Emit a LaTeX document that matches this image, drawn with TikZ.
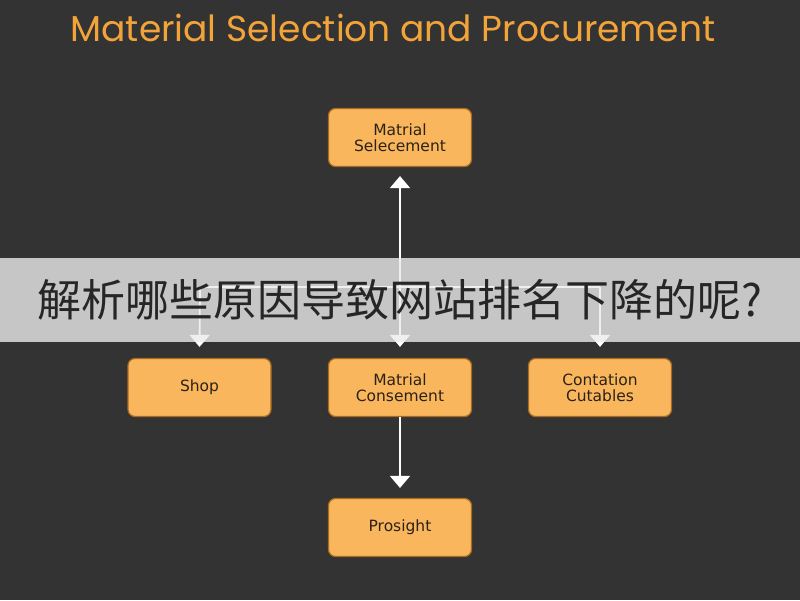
\documentclass[tikz,border=0pt]{standalone}
\usepackage{fontspec}
\setmainfont{Liberation Sans}
\newfontfamily\titlefont{Poppins}
\newfontfamily\boxfont{DejaVu Sans}
\newfontfamily\cjkfont{Noto Sans CJK SC}
\usetikzlibrary{arrows.meta}
\definecolor{bgdark}{HTML}{333333}
\definecolor{boxorange}{HTML}{F9B65C}
\definecolor{boxedge}{HTML}{A86A22}
\definecolor{boxtext}{HTML}{2A2218}
\definecolor{titleorange}{HTML}{F2A33A}

\begin{document}
\begin{tikzpicture}[x=1pt, y=-1pt,
    every node/.style={font=\boxfont\fontsize{15.5}{16}\selectfont},
    stage/.style={draw=boxedge, line width=1.2pt, fill=boxorange, rounded corners=7pt,
        minimum width=143pt, minimum height=58pt, align=center, text=boxtext},
    arrow/.style={-{Triangle[width=20pt,length=12pt]}, white, line width=1.8pt},
    link/.style={white, line width=1.8pt}
]
\useasboundingbox (0,0) rectangle (800,600);
\fill[bgdark] (0,0) rectangle (800,600);

\node[font=\titlefont\fontsize{36}{40}\selectfont, text=titleorange] (title) at (393,28)
{Material Selection and Procurement};

\node[stage] (select)   at (400,137.5) {Matrial\\Selecement};
\node[stage] (shop)     at (199.5,387.5) {Shop};
\node[stage] (consume)  at (400,387.5) {Matrial\\Consement};
\node[stage] (contract) at (600,387.5) {Contation\\Cutables};
\node[stage] (prosight) at (400,527.5) {Prosight};

\coordinate (split)  at (400,287);
\coordinate (splitL) at (200,287);
\coordinate (splitR) at (600,287);

\draw[arrow] (split) -- ([yshift=-9pt]select.south);
\draw[arrow] (split) -- ([yshift=11pt]consume.north);
\draw[link] (splitL) -- (splitR);
\draw[arrow] (splitL) -- ([yshift=11pt]shop.north);
\draw[arrow] (splitR) -- ([yshift=11pt]contract.north);
\draw[arrow] (consume) -- ([yshift=10pt]prosight.north);

% banner across the middle
\fill[white!92!black, opacity=0.8] (0,258) rectangle (800,342);
\node[font=\cjkfont\fontsize{44}{48}\selectfont, text=black!85] (banner) at (400,300)
{解析哪些原因导致网站排名下降的呢?};

\end{tikzpicture}
\end{document}
